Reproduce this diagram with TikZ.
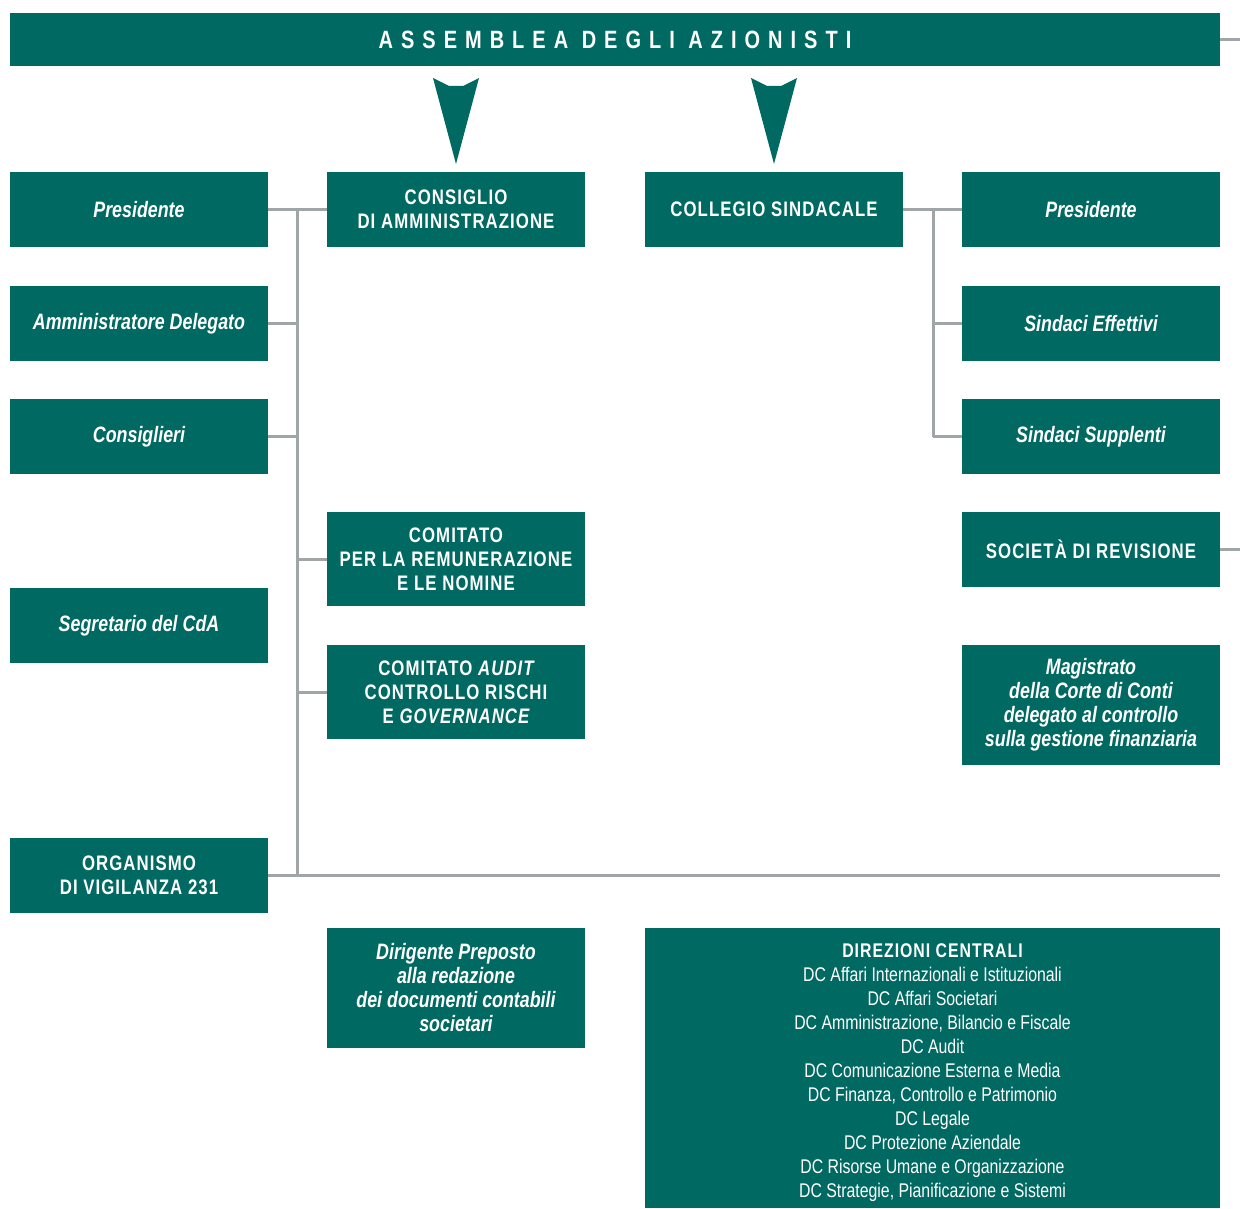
\documentclass[tikz,border=0pt]{standalone}
\usepackage{fontspec}
\setmainfont[FakeStretch=0.8]{Liberation Sans}
\usepackage{xcolor}
\definecolor{boxgreen}{RGB}{0,105,98}
\definecolor{busgray}{RGB}{160,165,168}
\newcommand{\capsface}{\bfseries\addfontfeatures{LetterSpace=5}}

\begin{document}
\begin{tikzpicture}[x=1pt, y=-1pt,
  box/.style={fill=boxgreen, text=white, minimum width=258pt, minimum height=75pt,
    inner sep=2pt, align=center, font=\fontsize{21}{24}\selectfont\capsface},
  namebox/.style={box, font=\fontsize{22.3}{24}\selectfont\bfseries\itshape},
  bus/.style={draw=busgray, line width=3pt}]
\useasboundingbox (0,0) rectangle (1240,1209);
% Assemblea
\node[box, minimum width=1210pt, minimum height=53pt,
  font=\fontsize{25}{28}\selectfont\bfseries\addfontfeatures{LetterSpace=32}] (assemblea) at (615,40) {ASSEMBLEA DEGLI AZIONISTI};
\foreach \ax in {456,774}
  \fill[boxgreen] (\ax-23,78) -- (\ax-7,86) -- (\ax+7,86) -- (\ax+23,78) -- (\ax,164) -- cycle;
% Consiglio di amministrazione
\node[namebox] (presCdA) at (139,209.5) {Presidente};
\node[namebox] (ad) at (139,323.5) {Amministratore Delegato};
\node[namebox] (consiglieri) at (139,436.5) {Consiglieri};
\node[namebox] (segretario) at (139,625.5) {Segretario del CdA};
\node[box] (odv) at (139,875.5) {ORGANISMO\\DI VIGILANZA 231};
\node[box] (cda) at (456,209.5) {CONSIGLIO\\DI AMMINISTRAZIONE};
\node[box, minimum height=94pt] (remun) at (456,559) {COMITATO\\PER LA REMUNERAZIONE\\E LE NOMINE};
\node[box, minimum height=94pt] (audit) at (456,692) {COMITATO {\itshape AUDIT}\\CONTROLLO RISCHI\\E {\itshape GOVERNANCE}};
\node[namebox, minimum height=120pt] (dirigente) at (456,988) {Dirigente Preposto\\alla redazione\\dei documenti contabili\\societari};
% Collegio sindacale
\node[box] (collegio) at (774,209.5) {COLLEGIO SINDACALE};
\node[namebox] (presCS) at (1091,209.5) {Presidente};
\node[namebox] (effettivi) at (1091,323.5) {Sindaci Effettivi};
\node[namebox] (supplenti) at (1091,436.5) {Sindaci Supplenti};
\node[box] (revisione) at (1091,549.5) {SOCIETÀ DI REVISIONE};
\node[namebox, minimum height=120pt] (magistrato) at (1091,705) {Magistrato\\della Corte di Conti\\delegato al controllo\\sulla gestione finanziaria};
\node[box, minimum width=575pt, minimum height=280pt, font=\fontsize{19.8}{24}\selectfont] (direzioni) at (932.5,1068)
  {\rule{0pt}{23pt}{\capsface DIREZIONI CENTRALI}\\
   DC Affari Internazionali e Istituzionali\\
   DC Affari Societari\\
   DC Amministrazione, Bilancio e Fiscale\\
   DC Audit\\
   DC Comunicazione Esterna e Media\\
   DC Finanza, Controllo e Patrimonio\\
   DC Legale\\
   DC Protezione Aziendale\\
   DC Risorse Umane e Organizzazione\\
   DC Strategie, Pianificazione e Sistemi};
% Collegamenti
\coordinate (busL) at (297,209.5);
\coordinate (busR) at (933,209.5);
\coordinate (odvEnd) at (1220,875.5);
\draw[bus] (presCdA.east) -- (cda.west);
\draw[bus] (busL) -- (busL |- odv.east);
\foreach \n in {ad,consiglieri} \draw[bus] (\n.east) -- (\n.east -| busL);
\foreach \n in {remun,audit} \draw[bus] (\n.west) -- (\n.west -| busL);
\draw[bus] (odv.east) -- (odvEnd);
\draw[bus] (collegio.east) -- (presCS.west);
\draw[bus] (busR) -- (busR |- supplenti.west);
\foreach \n in {effettivi,supplenti} \draw[bus] (\n.west) -- (\n.west -| busR);
\draw[bus] (assemblea.east) -- ++(20,0);
\draw[bus] (revisione.east) -- ++(20,0);
\end{tikzpicture}
\end{document}
